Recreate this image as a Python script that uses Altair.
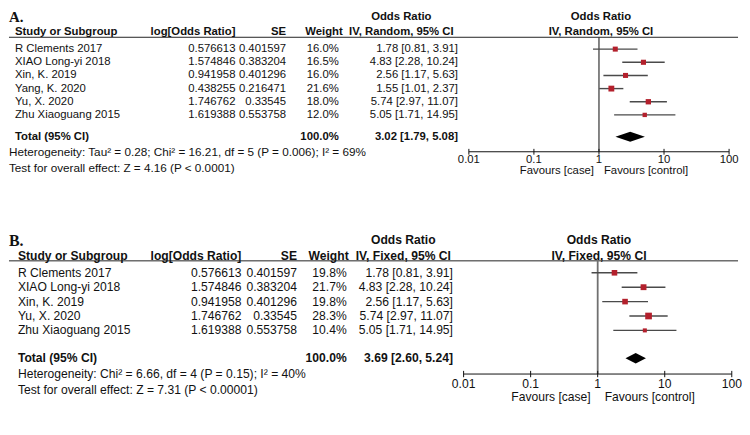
import altair as alt
import pandas as pd

FONT = "Liberation Sans"

# ---------------- Panel A (random effects) ----------------
studies_a = ["R Clements 2017", "XIAO Long-yi 2018", "Xin, K. 2019",
             "Yang, K. 2020", "Yu, X. 2020", "Zhu Xiaoguang 2015"]
logor_a = [0.576613, 1.574846, 0.941958, 0.438255, 1.746762, 1.619388]
se_a = [0.401597, 0.383204, 0.401296, 0.216471, 0.33545, 0.553758]
weight_a = [16.0, 16.5, 16.0, 21.6, 18.0, 12.0]
or_a = [1.78, 4.83, 2.56, 1.55, 5.74, 5.05]
lo_a = [0.81, 2.28, 1.17, 1.01, 2.97, 1.71]
hi_a = [3.91, 10.24, 5.63, 2.37, 11.07, 14.95]
total_a = [3.02, 1.79, 5.08]
het_a = "Heterogeneity: Tau\u00b2 = 0.28; Chi\u00b2 = 16.21, df = 5 (P = 0.006); I\u00b2 = 69%"
test_a = "Test for overall effect: Z = 4.16 (P < 0.0001)"

# ---------------- Panel B (fixed effect) ----------------
studies_b = ["R Clements 2017", "XIAO Long-yi 2018", "Xin, K. 2019",
             "Yu, X. 2020", "Zhu Xiaoguang 2015"]
logor_b = [0.576613, 1.574846, 0.941958, 1.746762, 1.619388]
se_b = [0.401597, 0.383204, 0.401296, 0.33545, 0.553758]
weight_b = [19.8, 21.7, 19.8, 28.3, 10.4]
or_b = [1.78, 4.83, 2.56, 5.74, 5.05]
lo_b = [0.81, 2.28, 1.17, 2.97, 1.71]
hi_b = [3.91, 10.24, 5.63, 11.07, 14.95]
total_b = [3.69, 2.60, 5.24]
het_b = "Heterogeneity: Chi\u00b2 = 6.66, df = 4 (P = 0.15); I\u00b2 = 40%"
test_b = "Test for overall effect: Z = 7.31 (P < 0.00001)"

tick_values = [0.01, 0.1, 1, 10, 100]
tick_labels = ["0.01", "0.1", "1", "10", "100"]

W = 734

# layout / style for each panel (row offsets are in units of one study row)
STYLE_A = dict(rowpx=13.25, top=-2.72, bottom=3.7, fs=11.4, fs_foot=11.8, fs_letter=15,
               letter=-2.42, head1=-2.42, head2=-1.28, line=-0.9,
               total=0.66, het=1.8, test=3.0, labels=2.4, fav=3.25,
               x_name=6, x_foot=0, x_logor=228, x_se=279, x_wt=332, x_wth=336,
               x_ci=452, x_cih=395, x_fh=596, frange=[463, 725], fav_dx=5,
               nl_color="#333333", nl_width=1.2, diamond=0.38, sq_max=48)
STYLE_B = dict(rowpx=14.5, top=-2.5, bottom=4.0, fs=12.2, fs_foot=12.2, fs_letter=16,
               letter=-2.2, head1=-2.28, head2=-1.17, line=-0.83,
               total=0.93, het=2.03, test=3.14, labels=2.69, fav=3.62,
               x_name=9, x_foot=9, x_logor=234, x_se=290, x_wt=340, x_wth=342,
               x_ci=447, x_cih=397, x_fh=594, frange=[457.7, 727.7], fav_dx=7,
               nl_color="#707070", nl_width=1.8, diamond=0.36, sq_max=62)


def panel(st, letter, method, studies, logor, se, weight, orr, lo, hi, total, het, test):
    n = len(studies)
    r_total, r_het, r_test = n - 1 + st["total"] + 1, n - 1 + st["het"] + 1, n - 1 + st["test"] + 1
    r_total, r_het, r_test = n + st["total"], n + st["het"], n + st["test"]
    yscale = alt.Scale(domain=[st["top"], n + st["bottom"]], reverse=True, nice=False, zero=False)
    xscale = alt.Scale(type="log", domain=[0.01, 100], range=st["frange"], nice=False)
    Y = alt.Y("row:Q", scale=yscale, axis=None)
    fs = st["fs"]

    df = pd.DataFrame({
        "row": list(range(n)),
        "study": studies,
        "logor": [str(v) for v in logor],
        "se": [str(v) for v in se],
        "wtxt": [f"{w:.1f}%" for w in weight],
        "weight": weight,
        "ci": [f"{o:.2f} [{l:.2f}, {h:.2f}]" for o, l, h in zip(orr, lo, hi)],
        "or": orr, "lo": lo, "hi": hi,
    })

    def col(field, x, align):
        return alt.Chart(df).mark_text(align=align, baseline="middle", fontSize=fs,
                                       font=FONT, color="#111").encode(
            x=alt.value(x), y=Y, text=f"{field}:N")

    def txt(text, row, x, align="left", bold=False, size=fs, font=FONT):
        d = pd.DataFrame({"text": [text], "row": [row]})
        return alt.Chart(d).mark_text(align=align, baseline="middle", fontSize=size,
                                      font=font, color="#111",
                                      fontWeight="bold" if bold else "normal").encode(
            x=alt.value(x), y=Y, text="text:N")

    layers = [
        txt(letter, st["letter"], 0, size=st["fs_letter"], bold=True, font="Liberation Serif"),
        txt("Odds Ratio", st["head1"], st["x_cih"], "center", True),
        txt("Odds Ratio", st["head1"], st["x_fh"], "center", True),
        txt("Study or Subgroup", st["head2"], st["x_name"], "left", True),
        txt("log[Odds Ratio]", st["head2"], st["x_logor"], "right", True),
        txt("SE", st["head2"], st["x_se"], "right", True),
        txt("Weight", st["head2"], st["x_wth"], "right", True),
        txt(f"IV, {method}, 95% CI", st["head2"], st["x_cih"], "center", True),
        txt(f"IV, {method}, 95% CI", st["head2"], st["x_fh"], "center", True),
        col("study", st["x_name"], "left"),
        col("logor", st["x_logor"], "right"),
        col("se", st["x_se"], "right"),
        col("wtxt", st["x_wt"], "right"),
        col("ci", st["x_ci"], "right"),
        txt("Total (95% CI)", r_total, st["x_name"], "left", True),
        txt("100.0%", r_total, st["x_wt"], "right", True),
        txt(f"{total[0]:.2f} [{total[1]:.2f}, {total[2]:.2f}]", r_total, st["x_ci"], "right", True),
        txt(het, r_het, st["x_foot"], "left", size=st["fs_foot"]),
        txt(test, r_test, st["x_foot"], "left", size=st["fs_foot"]),
    ]

    # header underline
    ul = pd.DataFrame({"row": [st["line"]]})
    layers.append(alt.Chart(ul).mark_rule(color="#222", strokeWidth=1).encode(
        x=alt.value(0), x2=alt.value(W), y=Y))

    # line of no effect
    ne = pd.DataFrame({"x": [1], "row": [st["line"]], "row2": [r_het]})
    layers.append(alt.Chart(ne).mark_rule(color=st["nl_color"], strokeWidth=st["nl_width"]).encode(
        x=alt.X("x:Q", scale=xscale, axis=None), y=Y, y2="row2:Q"))

    # confidence intervals and squares
    layers.append(alt.Chart(df).mark_rule(color="#4a4a4a", strokeWidth=1.4).encode(
        x=alt.X("lo:Q", scale=xscale, axis=None), x2="hi:Q", y=Y))
    layers.append(alt.Chart(df).mark_square(color="#b3202c", opacity=1).encode(
        x=alt.X("or:Q", scale=xscale, axis=None), y=Y,
        size=alt.Size("weight:Q", scale=alt.Scale(domain=[0, 30], range=[0, st["sq_max"]]),
                      legend=None)))

    # pooled diamond
    d = st["diamond"]
    dm = pd.DataFrame({"x": [total[1], total[0], total[2]],
                       "row": [r_total, r_total - d, r_total],
                       "row2": [r_total, r_total + d, r_total]})
    layers.append(alt.Chart(dm).mark_area(color="black", orient="vertical", opacity=1).encode(
        x=alt.X("x:Q", scale=xscale, axis=None), y=Y, y2="row2:Q"))

    # axis drawn through the x scale
    ax = pd.DataFrame({"x": [tick_values[0]], "x2": [tick_values[-1]], "row": [r_het]})
    layers.append(alt.Chart(ax).mark_rule(color="#111", strokeWidth=1).encode(
        x=alt.X("x:Q", scale=xscale, axis=None), x2="x2:Q", y=Y))
    tk = pd.DataFrame({"x": tick_values, "row": [r_het - 0.22] * 5, "row2": [r_het + 0.22] * 5,
                       "lab": tick_labels, "lrow": [n + st["labels"]] * 5})
    layers.append(alt.Chart(tk).mark_rule(color="#111", strokeWidth=1).encode(
        x=alt.X("x:Q", scale=xscale, axis=None), y=Y, y2="row2:Q"))
    layers.append(alt.Chart(tk).mark_text(fontSize=fs, font=FONT, color="#111",
                                          baseline="middle").encode(
        x=alt.X("x:Q", scale=xscale, axis=None),
        y=alt.Y("lrow:Q", scale=yscale, axis=None), text="lab:N"))

    fv = pd.DataFrame({"x": [1, 1], "row": [n + st["fav"]] * 2,
                       "lab": ["Favours [case]", "Favours [control]"]})
    layers.append(alt.Chart(fv).transform_filter(alt.datum.lab == "Favours [case]").mark_text(
        fontSize=fs, font=FONT, color="#111", baseline="middle", align="right",
        dx=-st["fav_dx"]).encode(
        x=alt.X("x:Q", scale=xscale, axis=None), y=Y, text="lab:N"))
    layers.append(alt.Chart(fv).transform_filter(alt.datum.lab == "Favours [control]").mark_text(
        fontSize=fs, font=FONT, color="#111", baseline="middle", align="left",
        dx=st["fav_dx"]).encode(
        x=alt.X("x:Q", scale=xscale, axis=None), y=Y, text="lab:N"))

    height = (n + st["bottom"] - st["top"]) * st["rowpx"]
    return alt.layer(*layers).properties(width=W, height=height)


pa = panel(STYLE_A, "A.", "Random", studies_a, logor_a, se_a, weight_a, or_a, lo_a, hi_a,
           total_a, het_a, test_a)
pb = panel(STYLE_B, "B.", "Fixed", studies_b, logor_b, se_b, weight_b, or_b, lo_b, hi_b,
           total_b, het_b, test_b)

chart = alt.vconcat(pa, pb, spacing=56).properties(padding=0).configure_view(
    stroke=None).configure_concat(spacing=56)

chart.save("out.html", embed_options={"renderer": "svg", "actions": False})
